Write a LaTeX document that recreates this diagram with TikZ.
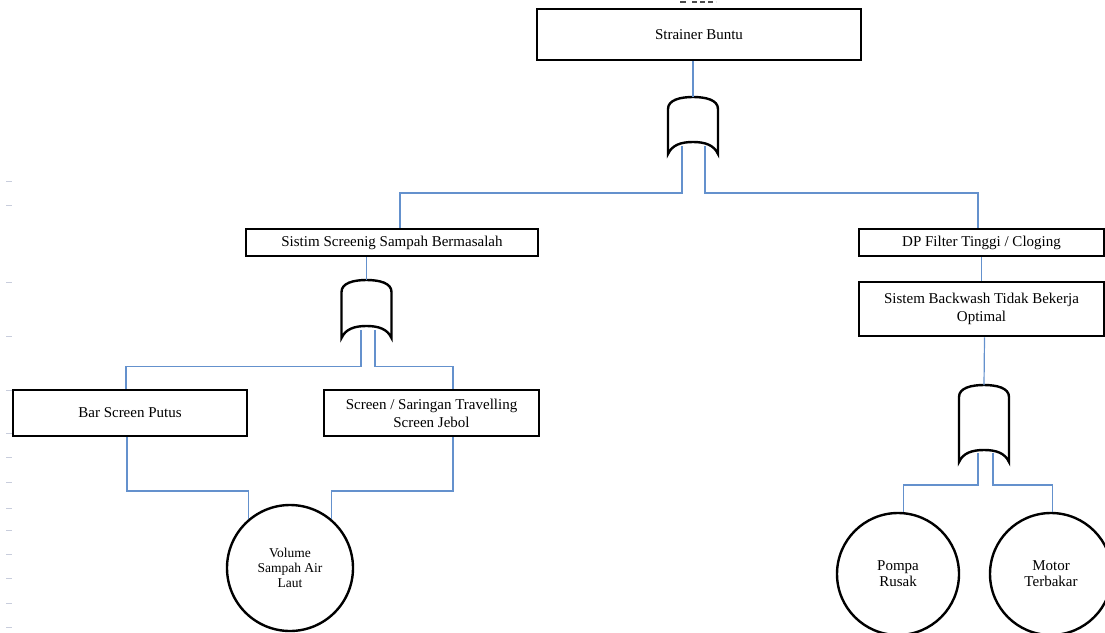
\documentclass[tikz,border=0pt]{standalone}
\usepackage{fontspec}
\setmainfont{Liberation Serif}
\definecolor{linkblue}{RGB}{100,145,205}
\definecolor{tickgray}{RGB}{200,205,220}
\newcommand\orgate[4]{% name, cx, ytop, ybot
  \draw[gatepath] ({#2-25},#4) -- ({#2-25},{#3+12})
    .. controls ({#2-25},{#3+3}) and ({#2-13},#3) .. (#2,#3)
    .. controls ({#2+13},#3) and ({#2+25},{#3+3}) .. ({#2+25},{#3+12})
    -- ({#2+25},#4)
    .. controls ({#2+21},{#4-9}) and ({#2+12},{#4-12}) .. (#2,{#4-12})
    .. controls ({#2-12},{#4-12}) and ({#2-21},{#4-9}) .. ({#2-25},#4) -- cycle;
  \coordinate (#1) at (#2,#3);}
\begin{document}
\begin{tikzpicture}[x=1pt,y=-1pt,
  box/.style={draw=black,line width=2.8pt,align=center,inner sep=0pt,
    font=\fontsize{15}{18}\selectfont},
  evt/.style={draw=black,line width=2.4pt,circle,align=center,inner sep=0pt,
    font=\fontsize{15}{16}\selectfont},
  link/.style={draw=linkblue,line width=1.2pt},
  gatepath/.style={draw=black,line width=2.4pt},
  tick/.style={draw=tickgray,line width=0.8pt}]
\useasboundingbox (0,0) rectangle (1105,632);

% faint margin marks
\foreach \yy in {181,205,282,336,390,433,457,482,508,530,554,578,603,627}
  \draw[tick] (6,\yy) -- (12,\yy);
\draw[draw=black!70,line width=1.5pt] (680,2) -- (686,2);
\draw[draw=black!70,line width=1.5pt,dash pattern=on 5pt off 3pt] (692,2) -- (716,2);

% boxes
\node[box,minimum width=324pt,minimum height=51pt] (top) at (699,34.5) {Strainer Buntu};
\node[box,minimum width=292pt,minimum height=27pt] (sistim) at (392,242.5) {Sistim Screenig Sampah Bermasalah};
\node[box,minimum width=245pt,minimum height=27pt] (dp) at (981.5,242.5) {DP Filter Tinggi / Cloging};
\node[box,minimum width=245pt,minimum height=54pt] (back) at (981.5,309) {Sistem Backwash Tidak Bekerja\\Optimal};
\node[box,minimum width=234pt,minimum height=46pt] (bar) at (130,413) {Bar Screen Putus};
\node[box,minimum width=215pt,minimum height=46pt] (screen) at (431.5,413) {Screen / Saringan Travelling\\Screen Jebol};

% basic events
\node[evt,minimum size=126pt,font=\fontsize{13.5}{15}\selectfont] (vol) at (290,568) {Volume\\Sampah Air\\Laut};
\node[evt,minimum size=122pt] (pompa) at (898,574) {Pompa\\Rusak};
\node[evt,minimum size=122pt] (motor) at (1051,574) {Motor\\Terbakar};

% coordinates
\coordinate (g1a) at (682,146);
\coordinate (g1b) at (705,146);
\coordinate (g2a) at (361,330);
\coordinate (g2b) at (375,330);
\coordinate (g3a) at (978,453);
\coordinate (g3b) at (993,453);
\coordinate (row1) at (0,193);
\coordinate (row2) at (0,366.5);
\coordinate (row3) at (0,491);
\coordinate (row4) at (0,485);

% connectors
\draw[link] (g1a) -- (g1a |- row1) -| ([xshift=8pt]sistim.north);
\draw[link] (g1b) -- (g1b |- row1) -| ([xshift=-3.5pt]dp.north);
\draw[link] (g2a) -- (g2a |- row2) -| ([xshift=-4pt]bar.north);
\draw[link] (g2b) -- (g2b |- row2) -| ([xshift=21.5pt]screen.north);
\draw[link] ([xshift=-3pt]bar.south) -- ([xshift=-3pt]bar.south |- row3) -| (vol.130);
\draw[link] ([xshift=21.5pt]screen.south) -- ([xshift=21.5pt]screen.south |- row3) -| (vol.50);
\draw[link] (dp.south) -- (back.north);
\draw[link] (g3a) -- (g3a |- row4) -| (pompa.85);
\draw[link] (g3b) -- (g3b |- row4) -| (motor.89);

% gates
\orgate{g1}{693}{97}{154}
\orgate{g2}{366.5}{280}{338}
\orgate{g3}{984}{385}{462}
\draw[link] (g1 |- top.south) -- (g1);
\draw[link] (g2 |- sistim.south) -- (g2);
\draw[link] ([xshift=3pt]back.south) -- (g3);
\end{tikzpicture}
\end{document}
